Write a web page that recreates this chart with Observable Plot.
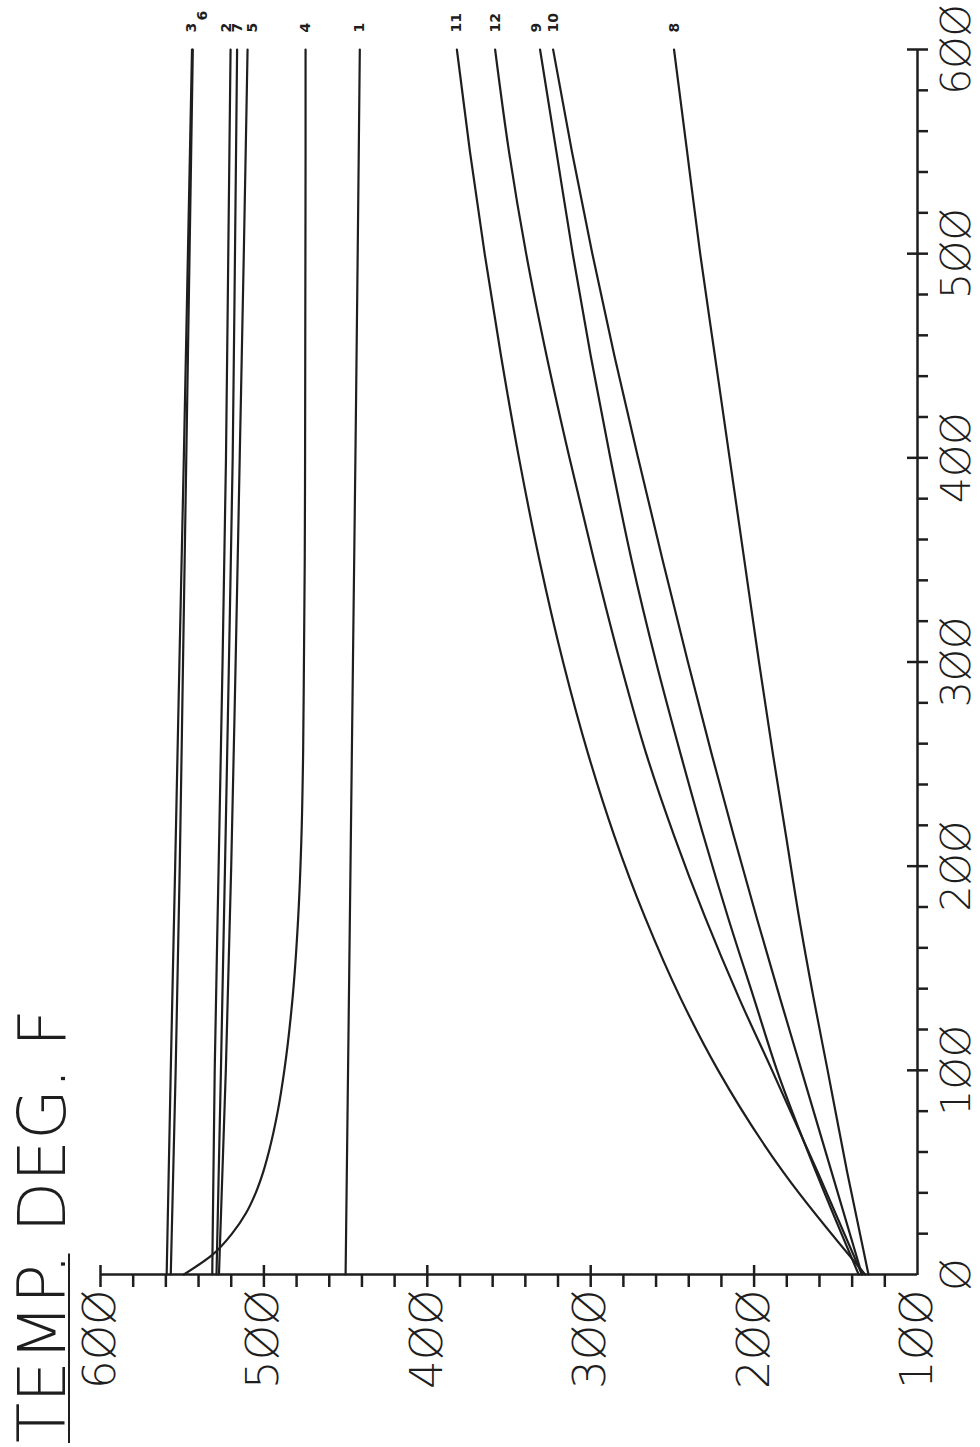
<!DOCTYPE html>
<html>
<head>
<meta charset="utf-8">
<script src="https://cdn.jsdelivr.net/npm/d3@7"></script>
<script src="https://cdn.jsdelivr.net/npm/@observablehq/plot@0.6"></script>
<style>
  html, body { margin: 0; padding: 0; background: #fff; overflow: hidden; width: 980px; height: 1447px; }
  #wrap { position: absolute; left: 0; top: 0; width: 1447px; height: 980px;
          transform-origin: 0 0; transform: translateY(1447px) rotate(-90deg);
          font-family: "DejaVu Sans", sans-serif; }
  #wrap svg { position: absolute; left: 0; top: 0; }
  #title { position: absolute; left: 4px; top: 10px; font-size: 66px; line-height: 66px;
           font-weight: 200; color: #1e1e1e; white-space: nowrap; }
  #title u { text-decoration-thickness: 2px; text-underline-offset: 3px; }
</style>
</head>
<body>
<div id="wrap"></div>
<script>
// ---- tick labels ----
const timeTicks = [0, 100, 200, 300, 400, 500, 600];
const tempTicks = [100, 200, 300, 400, 500, 600];

// ---- time samples ----
const tLine  = [0, 100, 200, 300, 400, 500, 600];
const tFast  = [0, 10, 20, 30, 40, 50, 60, 80, 100, 135, 175, 215, 255, 300, 350, 400, 450, 500, 550, 600];
const tCurve = [0, 50, 100, 135, 175, 215, 255, 300, 350, 400, 450, 500, 550, 600];

// ---- temperatures (deg F) ----
const s1  = [450, 448.5, 447, 445.5, 444, 442.6, 441.3];
const s2  = [531.6, 530.1, 527.7, 525.3, 523.2, 521.8, 520.4];
const s3  = [559.5, 557, 554.3, 551.7, 549, 546.5, 544];
const s5  = [527.5, 523.3, 520, 517.3, 514.8, 512.3, 510];
const s6  = [557, 554, 551.5, 549.5, 547.5, 545.5, 543.5];
const s7  = [529, 526.3, 523.8, 521.4, 519.1, 517.7, 516.4];
const s4  = [549, 531, 519.5, 511, 505, 500.5, 497, 491.5, 487.5, 482.5, 479, 477, 476, 475.5, 475, 474.8, 474.7, 474.6, 474.5, 474.5];
const s8  = [130, 143, 155, 163.5, 172.5, 180.5, 188.5, 197, 206, 215, 224, 233, 241, 249];
const s9  = [136, 162, 186, 200, 216, 231, 245, 260, 275, 288, 300, 311, 321, 331];
const s10 = [134, 152.5, 171, 184, 198.5, 212.5, 226, 240.5, 256, 271, 285.5, 299, 311.5, 323];
const s11 = [132, 182, 222, 244.8, 266.8, 285.6, 301.6, 316.9, 331.4, 343.9, 354.9, 364.9, 373.9, 381.9];
const s12 = [134, 161, 189, 209, 230, 249, 266, 282, 298, 313, 327, 339.5, 350, 358.5];

const defs = [
  ["1", tLine, s1], ["2", tLine, s2], ["3", tLine, s3], ["4", tFast, s4],
  ["5", tLine, s5], ["6", tLine, s6], ["7", tLine, s7], ["8", tCurve, s8],
  ["9", tCurve, s9], ["10", tCurve, s10], ["11", tCurve, s11], ["12", tCurve, s12]
];
const rows = defs.flatMap(([name, ts, vs]) => ts.map((t, i) => ({series: name, t, temp: vs[i]})));
const ends = defs.map(([name, ts, vs]) => ({series: name, t: ts[ts.length - 1], temp: vs[vs.length - 1]}));

const ink = "#1e1e1e";
const font = "DejaVu Sans";
const fmt = d => String(d).replace(/0/g, "Ø");
const W = 1447, H = 980, mL = 172, mR = 50, mT = 100, mB = 63;
const fw = W - mL - mR, fh = H - mT - mB;
const timeMinor = d3.range(20, 601, 20).filter(d => d % 100 !== 0);
const tempMinor = d3.range(120, 601, 20).filter(d => d % 100 !== 0);
const axisStyle = {stroke: ink, strokeWidth: 2.5};

// label placement nudges (pixels, styling only)
const labelNudge = {"6": [29, 10], "2": [17, -4], "5": [17, 5], "9": [17, -4]};
const labelStyle = {x: "t", y: "temp", text: "series", textAnchor: "start",
  fontSize: 14, fontWeight: "bold", fontFamily: font, fill: ink};
const labelMarks = [
  Plot.text(ends.filter(d => !(d.series in labelNudge)), {...labelStyle, dx: 17}),
  ...Object.entries(labelNudge).map(([s, [dx, dy]]) =>
    Plot.text(ends.filter(d => d.series === s), {...labelStyle, dx, dy}))
];

const chart = Plot.plot({
  width: W, height: H,
  marginLeft: mL, marginRight: mR, marginTop: mT, marginBottom: mB,
  style: {background: "transparent", color: ink},
  x: {domain: [0, 600], axis: null},
  y: {domain: [100, 600], axis: null},
  marks: [
    Plot.ruleX([0], axisStyle),
    Plot.ruleY([100], axisStyle),
    Plot.ruleX(timeTicks.filter(d => d > 0), {...axisStyle, insetTop: fh - 10, insetBottom: -11}),
    Plot.ruleX(timeMinor, {...axisStyle, insetTop: fh, insetBottom: -11}),
    Plot.ruleY(tempTicks.filter(d => d > 100), {...axisStyle, insetLeft: -12, insetRight: fw - 10}),
    Plot.ruleY(tempMinor, {...axisStyle, insetLeft: -12, insetRight: fw}),
    Plot.axisX(timeTicks, {anchor: "bottom", tickSize: 0, tickPadding: 23, tickFormat: fmt,
      fontSize: 41, fontFamily: font, fontWeight: 200, fill: ink, label: null}),
    Plot.axisY(tempTicks, {anchor: "left", tickSize: 0, tickPadding: 15, tickFormat: fmt,
      fontSize: 45, fontFamily: font, fontWeight: 200, fill: ink, label: null}),
    Plot.line(rows, {x: "t", y: "temp", z: "series", stroke: ink, strokeWidth: 2.2, curve: "monotone-x"}),
    ...labelMarks
  ]
});

const wrap = document.getElementById("wrap");
wrap.appendChild(chart);
const title = document.createElement("div");
title.id = "title";
title.innerHTML = "<u>TEMP.</u> DEG. F";
wrap.appendChild(title);
</script>
</body>
</html>
